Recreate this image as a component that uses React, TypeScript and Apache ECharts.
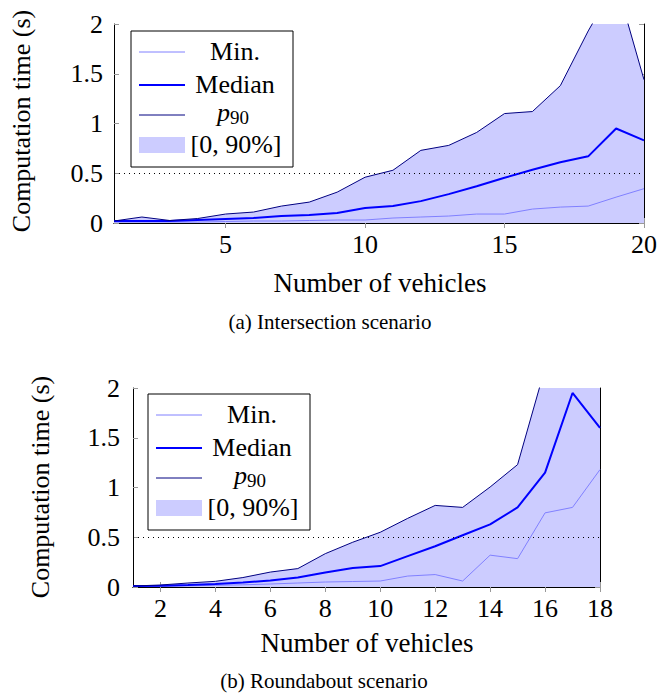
import React, { useEffect, useRef } from "react";
import * as echarts from "echarts";

// ---------- data ----------
const vehiclesA = [1, 2, 3, 4, 5, 6, 7, 8, 9, 10, 11, 12, 13, 14, 15, 16, 17, 18, 19, 20];
const minA = [0.01, 0.01, 0.01, 0.01, 0.015, 0.02, 0.02, 0.025, 0.03, 0.03, 0.05, 0.06, 0.07, 0.09, 0.09, 0.14, 0.16, 0.17, 0.26, 0.345];
const medianA = [0.02, 0.02, 0.02, 0.03, 0.04, 0.05, 0.07, 0.08, 0.1, 0.15, 0.17, 0.22, 0.29, 0.37, 0.455, 0.535, 0.61, 0.67, 0.95, 0.83];
const p90A = [0.02, 0.06, 0.025, 0.045, 0.09, 0.11, 0.17, 0.21, 0.31, 0.46, 0.53, 0.73, 0.78, 0.91, 1.1, 1.12, 1.38, 1.93, 2.42, 1.44];
const xTicksA = [5, 10, 15, 20];

const vehiclesB = [1, 2, 3, 4, 5, 6, 7, 8, 9, 10, 11, 12, 13, 14, 15, 16, 17, 18];
const minB = [0.005, 0.008, 0.012, 0.017, 0.022, 0.03, 0.04, 0.05, 0.055, 0.06, 0.11, 0.125, 0.06, 0.32, 0.285, 0.745, 0.8, 1.18];
const medianB = [0.01, 0.012, 0.02, 0.03, 0.045, 0.065, 0.095, 0.145, 0.19, 0.21, 0.31, 0.41, 0.52, 0.63, 0.8, 1.15, 1.95, 1.6];
const p90B = [0.01, 0.02, 0.04, 0.057, 0.095, 0.15, 0.185, 0.335, 0.45, 0.55, 0.69, 0.82, 0.8, 1.005, 1.23, 2.2, 2.6, 2.5];
const xTicksB = [2, 4, 6, 8, 10, 12, 14, 16, 18];

const yTicks = { min: 0, max: 2, interval: 0.5 };
const threshold = 0.5;

const legendLabels = ["Min.", "Median", "p", "90", "[0, 90%]"];
const yTitle = "Computation time (s)";
const xTitle = "Number of vehicles";
const captionA = "(a) Intersection scenario";
const captionB = "(b) Roundabout scenario";

// ---------- styles ----------
const FONT = "Liberation Serif";
const C_FILL = "#ccccff";
const C_MIN = "#8080ff";
const C_MED = "#0000ff";
const C_P90 = "#000080";

const pairs = (xs: number[], ys: number[]) => xs.map((x, i) => [x, ys[i]]);

function xAxes(grid: number, max: number, ticks: number[]) {
  const common = {
    type: "value",
    gridIndex: grid,
    min: 1,
    max,
    splitLine: { show: false },
    axisLine: { show: true, lineStyle: { color: "#000", width: 1 } },
    axisTick: { show: true, inside: true, length: 5, customValues: ticks, lineStyle: { color: "#999", width: 1 } },
  };
  return [
    {
      ...common,
      position: "bottom",
      axisLabel: { show: true, customValues: ticks, fontFamily: FONT, fontSize: 26, color: "#000", margin: 8 },
    },
    { ...common, position: "top", axisLabel: { show: false } },
  ];
}

function yAxes(grid: number, margin: number) {
  const common = {
    type: "value",
    gridIndex: grid,
    min: yTicks.min,
    max: yTicks.max,
    interval: yTicks.interval,
    splitLine: { show: false },
    axisLine: { show: true, lineStyle: { color: "#000", width: 1 } },
    axisTick: { show: true, inside: true, length: 5, lineStyle: { color: "#999", width: 1 } },
  };
  return [
    {
      ...common,
      position: "left",
      axisLabel: { show: true, fontFamily: FONT, fontSize: 26, color: "#000", margin },
    },
    { ...common, position: "right", axisLabel: { show: false } },
  ];
}

function seriesFor(axisX: number, axisY: number, xs: number[], mn: number[], md: number[], p9: number[]) {
  const base = { type: "line", xAxisIndex: axisX, yAxisIndex: axisY, showSymbol: false, symbol: "none", silent: true };
  return [
    {
      ...base,
      name: "fill",
      data: pairs(xs, p9),
      lineStyle: { width: 0, color: C_FILL },
      areaStyle: { color: C_FILL, opacity: 1, origin: "start" },
      z: 1,
    },
    {
      ...base,
      name: "min",
      data: pairs(xs, mn),
      lineStyle: { width: 1, color: C_MIN },
      z: 3,
      markLine: {
        silent: true,
        symbol: ["none", "none"],
        label: { show: false },
        lineStyle: { color: "#000", width: 1, type: [1, 4] },
        data: [{ yAxis: threshold }],
      },
    },
    { ...base, name: "median", data: pairs(xs, md), lineStyle: { width: 2, color: C_MED }, z: 4 },
    { ...base, name: "p90", data: pairs(xs, p9), lineStyle: { width: 1, color: C_P90 }, z: 4 },
  ];
}

function legendGroup(x: number, y: number) {
  const t = (text: string, cx: number, cy: number, extra: any = {}) => ({
    type: "text",
    x: cx,
    y: cy,
    z: 101,
    style: { text, fontFamily: FONT, fontSize: 26, fill: "#000", align: "center", verticalAlign: "middle", ...extra },
  });
  return {
    type: "group",
    x,
    y,
    z: 100,
    children: [
      { type: "rect", z: 100, shape: { x: 0, y: 0, width: 162, height: 136 }, style: { fill: "#fff", stroke: "#000", lineWidth: 1 } },
      { type: "line", z: 101, shape: { x1: 8, y1: 21, x2: 54, y2: 21 }, style: { stroke: C_MIN, lineWidth: 1 } },
      { type: "line", z: 101, shape: { x1: 8, y1: 54, x2: 54, y2: 54 }, style: { stroke: C_MED, lineWidth: 2 } },
      { type: "line", z: 101, shape: { x1: 8, y1: 84, x2: 54, y2: 84 }, style: { stroke: C_P90, lineWidth: 1 } },
      { type: "rect", z: 101, shape: { x: 8, y: 106, width: 46, height: 16 }, style: { fill: C_FILL } },
      t(legendLabels[0], 104, 20),
      t(legendLabels[1], 104, 53),
      t(legendLabels[2], 86, 81, { align: "left", fontStyle: "italic" }),
      t(legendLabels[3], 99, 86, { align: "left", fontSize: 19 }),
      t(legendLabels[4], 105, 113),
    ],
  };
}

function textEl(text: string, x: number, y: number, fontSize: number, rotation = 0) {
  return {
    type: "text",
    x,
    y,
    rotation,
    style: { text, fontFamily: FONT, fontSize, fill: "#000", align: "center", verticalAlign: "middle" },
  };
}

export default function App() {
  const ref = useRef<HTMLDivElement>(null);
  useEffect(() => {
    if (!ref.current) return;
    const chart = echarts.init(ref.current, null, { renderer: "svg" });
    chart.setOption({
      animation: false,
      backgroundColor: "#fff",
      textStyle: { fontFamily: FONT },
      grid: [
        { left: 114, top: 24, width: 534, height: 199 },
        { left: 133, top: 388, width: 467, height: 199 },
      ],
      xAxis: [...xAxes(0, 20, xTicksA), ...xAxes(1, 18, xTicksB)],
      yAxis: [...yAxes(0, 11), ...yAxes(1, 13)],
      series: [
        ...seriesFor(0, 0, vehiclesA, minA, medianA, p90A),
        ...seriesFor(2, 2, vehiclesB, minB, medianB, p90B),
      ],
      graphic: [
        legendGroup(131, 31),
        legendGroup(148, 394),
        textEl(yTitle, 21, 121, 26, Math.PI / 2),
        textEl(yTitle, 40, 487, 26, Math.PI / 2),
        textEl(xTitle, 380, 283, 27),
        textEl(xTitle, 367, 643, 27),
        textEl(captionA, 330, 322, 21),
        textEl(captionB, 324, 681, 21),
      ],
    });
    return () => chart.dispose();
  }, []);
  return <div ref={ref} style={{ position: "absolute", left: 0, top: 0, width: 660, height: 694 }} />;
}
